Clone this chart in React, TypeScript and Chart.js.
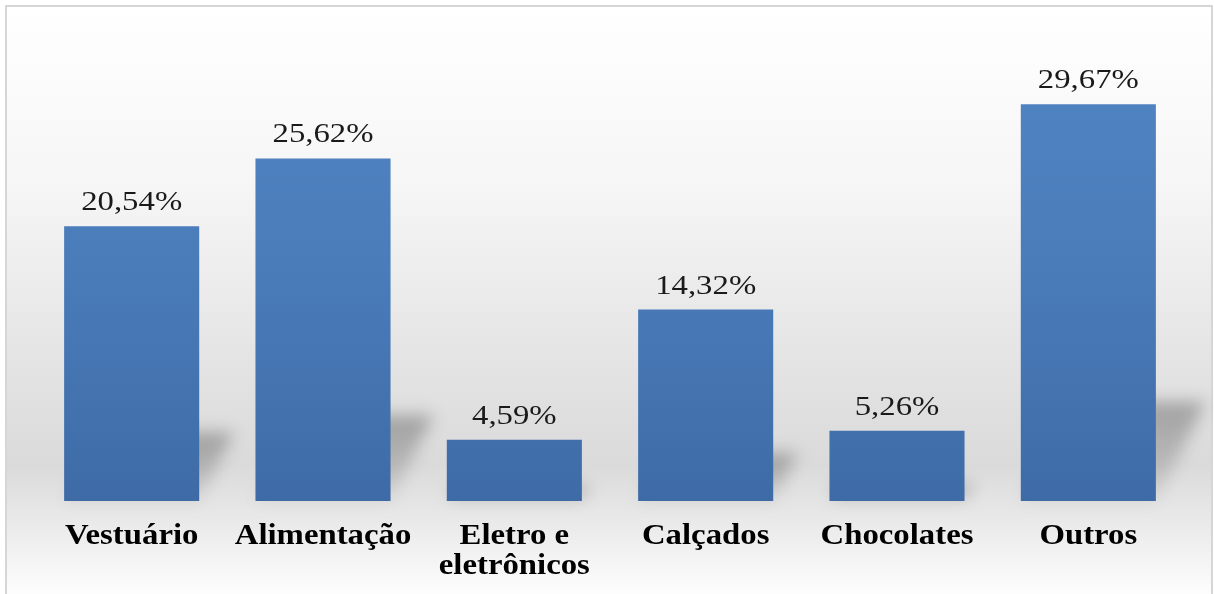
import React, { useEffect, useRef } from "react";
import { Chart, registerables } from "chart.js";

Chart.register(...registerables);

const categories: string[][] = [
  ["Vestuário"],
  ["Alimentação"],
  ["Eletro e", "eletrônicos"],
  ["Calçados"],
  ["Chocolates"],
  ["Outros"],
];
const shares: number[] = [20.54, 25.62, 4.59, 14.32, 5.26, 29.67];
const shareLabels: string[] = ["20,54%", "25,62%", "4,59%", "14,32%", "5,26%", "29,67%"];

const W = 1214;
const H = 594;
const SERIF = "'Liberation Serif', 'Times New Roman', serif";

// Stretched text helper (labels are drawn slightly wide)
function wideText(ctx: CanvasRenderingContext2D, text: string, x: number, y: number, sx: number) {
  ctx.save();
  ctx.translate(x, y);
  ctx.scale(sx, 1);
  ctx.fillText(text, 0, 0);
  ctx.restore();
}

const backdrop = {
  id: "backdrop",
  beforeDraw(chart: any) {
    const ctx: CanvasRenderingContext2D = chart.ctx;
    ctx.save();
    ctx.fillStyle = "#ffffff";
    ctx.fillRect(0, 0, W, H);
    const g = ctx.createLinearGradient(0, 7, 0, H);
    g.addColorStop(0, "#ffffff");
    g.addColorStop(0.3, "#f6f6f6");
    g.addColorStop(0.62, "#e3e3e3");
    g.addColorStop(0.78, "#dadada");
    g.addColorStop(0.9, "#ededed");
    g.addColorStop(1, "#fdfdfd");
    ctx.fillStyle = g;
    ctx.fillRect(7, 7, W - 9, H);
    ctx.strokeStyle = "#d6d6d6";
    ctx.lineWidth = 2;
    ctx.strokeRect(6, 6, W - 8, H + 20);

    // floor shadows cast by the bars
    const meta = chart.getDatasetMeta(0);
    ctx.filter = "blur(8px)";
    meta.data.forEach((bar: any) => {
      const half = bar.width / 2;
      const left = bar.x - half;
      const right = bar.x + half;
      const bottom = bar.base;
      const h = bottom - bar.y;
      const sh = h * 0.25;
      const dx = sh * 0.5;
      const sg = ctx.createLinearGradient(0, bottom - sh, 0, bottom);
      sg.addColorStop(0, "rgba(0,0,0,0.28)");
      sg.addColorStop(0.5, "rgba(0,0,0,0.18)");
      sg.addColorStop(1, "rgba(0,0,0,0.05)");
      ctx.fillStyle = sg;
      ctx.beginPath();
      ctx.moveTo(left, bottom);
      ctx.lineTo(right, bottom);
      ctx.lineTo(right + dx, bottom - sh);
      ctx.lineTo(left + dx, bottom - sh);
      ctx.closePath();
      ctx.fill();
    });
    ctx.filter = "none";
    ctx.restore();
  },
};

const labelsPlugin = {
  id: "textLabels",
  afterDatasetsDraw(chart: any) {
    const ctx: CanvasRenderingContext2D = chart.ctx;
    const meta = chart.getDatasetMeta(0);
    const xScale = chart.scales.x;
    ctx.save();
    ctx.fillStyle = "#1a1a1a";
    ctx.textAlign = "center";
    ctx.textBaseline = "alphabetic";
    ctx.font = `28px ${SERIF}`;
    meta.data.forEach((bar: any, i: number) => {
      wideText(ctx, shareLabels[i], bar.x, bar.y - 16, 1.17);
    });
    ctx.font = `bold 29px ${SERIF}`;
    ctx.fillStyle = "#000000";
    categories.forEach((lines, i) => {
      const x = xScale.getPixelForValue(i);
      lines.forEach((line, j) => {
        wideText(ctx, line, x, 544 + j * 30, 1.13);
      });
    });
    ctx.restore();
  },
};

export default function App() {
  const ref = useRef<HTMLCanvasElement | null>(null);

  useEffect(() => {
    if (!ref.current) return;
    const chart = new Chart(ref.current, {
      type: "bar",
      data: {
        labels: categories.map((c) => c.join(" ")),
        datasets: [
          {
            data: shares,
            backgroundColor: (c: any) => {
              const area = c.chart.chartArea;
              if (!area) return "#4f81bd";
              const g = c.chart.ctx.createLinearGradient(0, area.top, 0, area.bottom);
              g.addColorStop(0, "#5285c3");
              g.addColorStop(0.5, "#4a7cba");
              g.addColorStop(1, "#3e6ba6");
              return g;
            },
            borderWidth: 0,
            barPercentage: 0.706,
            categoryPercentage: 1,
          },
        ],
      },
      options: {
        responsive: false,
        animation: false,
        layout: { padding: { left: 36, right: 30, top: 33, bottom: 93 } },
        plugins: {
          legend: { display: false },
          tooltip: { enabled: false },
        },
        scales: {
          x: { display: false },
          y: { display: false, min: 0, max: 35 },
        },
      },
      plugins: [backdrop, labelsPlugin],
    });
    return () => chart.destroy();
  }, []);

  return (
    <div style={{ position: "fixed", left: 0, top: 0, width: W, height: H }}>
      <canvas ref={ref} width={W} height={H} />
    </div>
  );
}
